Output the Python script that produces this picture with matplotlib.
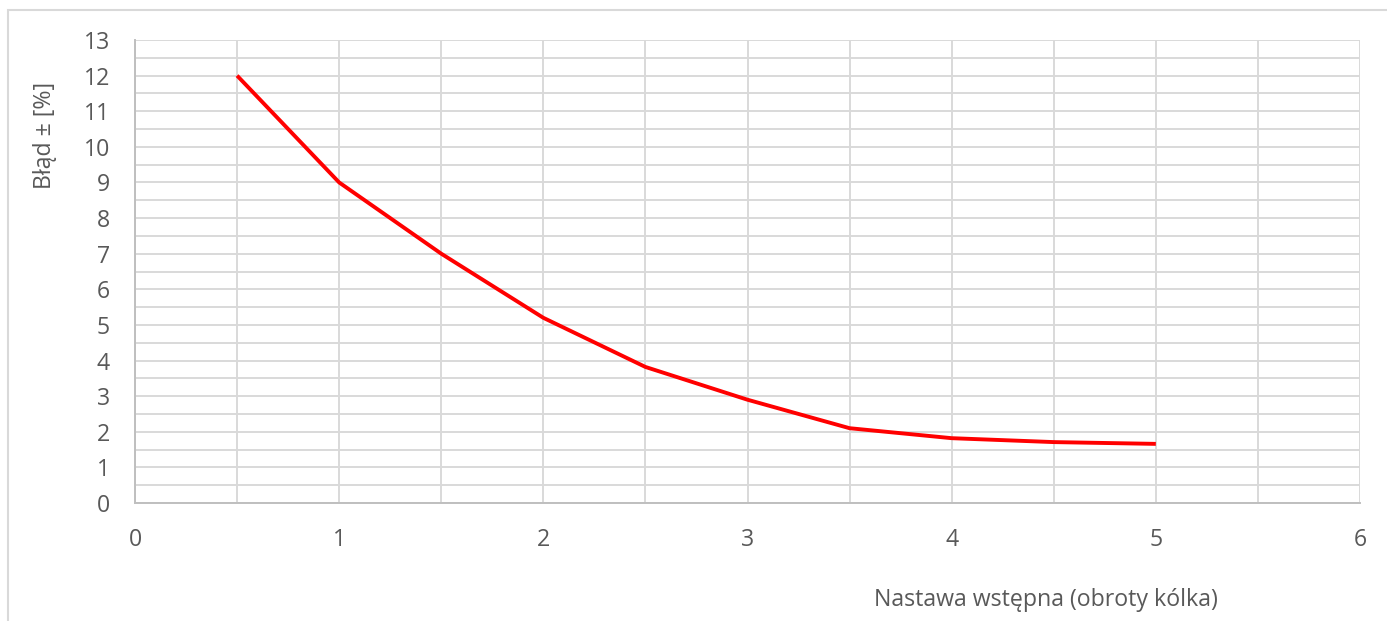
import matplotlib
matplotlib.use("Agg")
import matplotlib.pyplot as plt
from matplotlib.patches import Rectangle
import numpy as np

x_vals = [0.5, 1.0, 1.5, 2.0, 2.5, 3.0, 3.5, 4.0, 4.5, 5.0]
y_vals = [12.0, 9.0, 7.0, 5.2, 3.82, 2.9, 2.1, 1.82, 1.71, 1.66]
x_ticks = [0, 1, 2, 3, 4, 5, 6]
y_ticks = list(range(0, 14))
x_label = "Nastawa wstępna (obroty kólka)"
y_label = "Błąd ± [%]"

plt.rcParams['font.family'] = ['Open Sans', 'DejaVu Sans']
W, H = 1387, 621
fig = plt.figure(figsize=(W/100, H/100), dpi=100)
ax = fig.add_axes([135/W, 1-503/H, (1360-135)/W, (503-40)/H])

grid_c = '#d9d9d9'
text_c = '#595959'
fs = 16.7

fig.patches.append(Rectangle((8/W, -0.1), 1.2, 1-10/H+0.1, transform=fig.transFigure,
                             fill=False, edgecolor=grid_c, linewidth=1.5, zorder=0))

ax.plot(x_vals, y_vals, color='#ff0000', linewidth=2.8, solid_capstyle='butt', zorder=3)
ax.set_xlim(0, 6)
ax.set_ylim(0, 13)
ax.set_xticks(x_ticks)
ax.set_yticks(y_ticks)
ax.set_xticks(np.arange(0, 6.01, 0.5), minor=True)
ax.set_yticks(np.arange(0, 13.01, 0.5), minor=True)
ax.grid(True, which='both', color=grid_c, linewidth=1.4)
ax.set_axisbelow(True)
ax.tick_params(which='both', length=0)
ax.tick_params(axis='x', pad=18, labelsize=fs, labelcolor=text_c)
ax.tick_params(axis='y', pad=18, labelsize=fs, labelcolor=text_c)
for s in ['top', 'right']:
    ax.spines[s].set_visible(False)
for s in ['left', 'bottom']:
    ax.spines[s].set_color('#bfbfbf')
    ax.spines[s].set_linewidth(1.4)

fig.text(1046/W, 1-600/H, x_label, ha='center', va='center', fontsize=fs, color=text_c)
fig.text(45/W, 1-135/H, y_label, ha='center', va='center', rotation=90, fontsize=fs, color=text_c)

fig.savefig('out.png', dpi=100)
